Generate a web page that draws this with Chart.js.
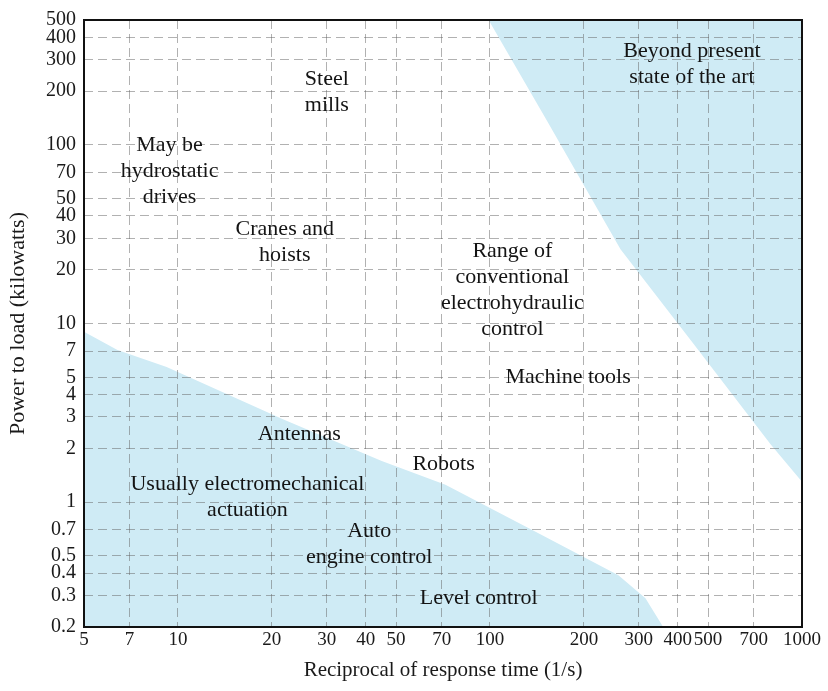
<!DOCTYPE html>
<html>
<head>
<meta charset="utf-8">
<script src="https://cdn.jsdelivr.net/npm/chart.js@4"></script>
<style>
  html, body { margin: 0; padding: 0; background: #fff; }
  #wrap { width: 828px; height: 691px; position: relative; }
</style>
</head>
<body>
<div id="wrap"><canvas id="myChart"></canvas></div>
<script>
/* tick values of the two log axes */
const xTicks = [5, 7, 10, 20, 30, 40, 50, 70, 100, 200, 300, 400, 500, 700, 1000];
const yTicks = [0.2, 0.3, 0.4, 0.5, 0.7, 1, 2, 3, 4, 5, 7, 10, 20, 30, 40, 50, 70, 100, 200, 300, 400, 500];

/* edge of the shaded "electromechanical" region (bottom left) */
const lowEdgeX = [5, 6.4, 9.2, 21.8, 45, 72, 143, 258, 315, 359];
const lowEdgeY = [9, 7.1, 5.7, 2.9, 1.7, 1.25, 0.67, 0.39, 0.29, 0.2];

/* edge of the shaded "beyond present state of the art" region (top right) */
const highEdgeX = [99, 151, 262, 454, 794, 1000];
const highEdgeY = [500, 140, 26, 7.5, 2.1, 1.3];

/* region names and where they sit (x in 1/s, y in kW) */
const regionNames = [
    ['Steel', 'mills'],
    ['May be', 'hydrostatic', 'drives'],
    ['Cranes and', 'hoists'],
    ['Range of', 'conventional', 'electrohydraulic', 'control'],
    ['Beyond present', 'state of the art'],
    ['Machine tools'],
    ['Antennas'],
    ['Robots'],
    ['Usually electromechanical', 'actuation'],
    ['Auto', 'engine control'],
    ['Level control']
];
const regionX = [30, 9.4, 22, 118, 444, 178, 24.5, 71, 16.7, 41, 92];
const regionY = [196, 71, 28.6, 15.4, 282, 5, 2.4, 1.62, 1.06, 0.58, 0.29];

window.onload = function () {
    const shade = 'rgb(207, 235, 245)';
    const serif = 'Liberation Serif';

    const frameAndText = {
        id: 'frameAndText',
        afterDraw(chart) {
            const { ctx, chartArea: { top, bottom, left, right }, scales: { x, y } } = chart;
            ctx.save();
            ctx.strokeStyle = '#111';
            ctx.lineWidth = 2;
            ctx.strokeRect(left, top, right - left, bottom - top);

            ctx.font = '22px "' + serif + '"';
            ctx.fillStyle = '#141414';
            ctx.textAlign = 'center';
            ctx.textBaseline = 'middle';
            const gap = 26;
            regionNames.forEach(function (lines, i) {
                const px = x.getPixelForValue(regionX[i]);
                const py = y.getPixelForValue(regionY[i]);
                const y0 = py - (lines.length - 1) * gap / 2;
                lines.forEach(function (t, j) {
                    ctx.fillText(t, px, y0 + j * gap);
                });
            });
            ctx.restore();
        }
    };

    const gridStyle = {
        color: 'rgba(100, 100, 100, 0.5)',
        lineWidth: 1,
        drawTicks: false,
        z: 1
    };

    var ctx = document.getElementById('myChart');
    var myChart = new Chart(ctx, {
        type: 'line',
        data: {
            datasets: [{
                label: 'Usually electromechanical actuation',
                data: lowEdgeX.map((v, i) => ({ x: v, y: lowEdgeY[i] })),
                backgroundColor: shade,
                borderWidth: 0,
                pointRadius: 0,
                fill: 'start'
            }, {
                label: 'Beyond present state of the art',
                data: highEdgeX.map((v, i) => ({ x: v, y: highEdgeY[i] })),
                backgroundColor: shade,
                borderWidth: 0,
                pointRadius: 0,
                fill: 'end'
            }]
        },
        options: {
            responsive: true,
            maintainAspectRatio: false,
            animation: false,
            layout: { padding: { top: 13, right: 26, bottom: 0, left: 0 } },
            plugins: {
                legend: { display: false },
                tooltip: { enabled: false }
            },
            scales: {
                x: {
                    type: 'logarithmic',
                    min: 5,
                    max: 1000,
                    grid: gridStyle,
                    border: { display: false, dash: [9, 5] },
                    afterBuildTicks: (s) => { s.ticks = xTicks.map(v => ({ value: v })); },
                    afterFit: (s) => { s.height = 64; },
                    ticks: {
                        autoSkip: false,
                        maxRotation: 0,
                        padding: 2,
                        color: '#1a1a1a',
                        font: { family: serif, size: 19 },
                        callback: (v) => String(v)
                    },
                    title: {
                        display: true,
                        text: 'Reciprocal of response time (1/s)',
                        color: '#1a1a1a',
                        font: { family: serif, size: 21 },
                        padding: { top: 0, bottom: 8 }
                    }
                },
                y: {
                    type: 'logarithmic',
                    min: 0.2,
                    max: 500,
                    grid: gridStyle,
                    border: { display: false, dash: [9, 5] },
                    afterBuildTicks: (s) => { s.ticks = yTicks.map(v => ({ value: v })); },
                    afterFit: (s) => { s.width = 84; },
                    ticks: {
                        autoSkip: false,
                        padding: 8,
                        color: '#1a1a1a',
                        font: { family: serif, size: 20 },
                        callback: (v) => String(v)
                    },
                    title: {
                        display: true,
                        text: 'Power to load (kilowatts)',
                        color: '#1a1a1a',
                        font: { family: serif, size: 22 },
                        padding: { top: 5, bottom: 0 }
                    }
                }
            }
        },
        plugins: [frameAndText]
    });
};
</script>
</body>
</html>
